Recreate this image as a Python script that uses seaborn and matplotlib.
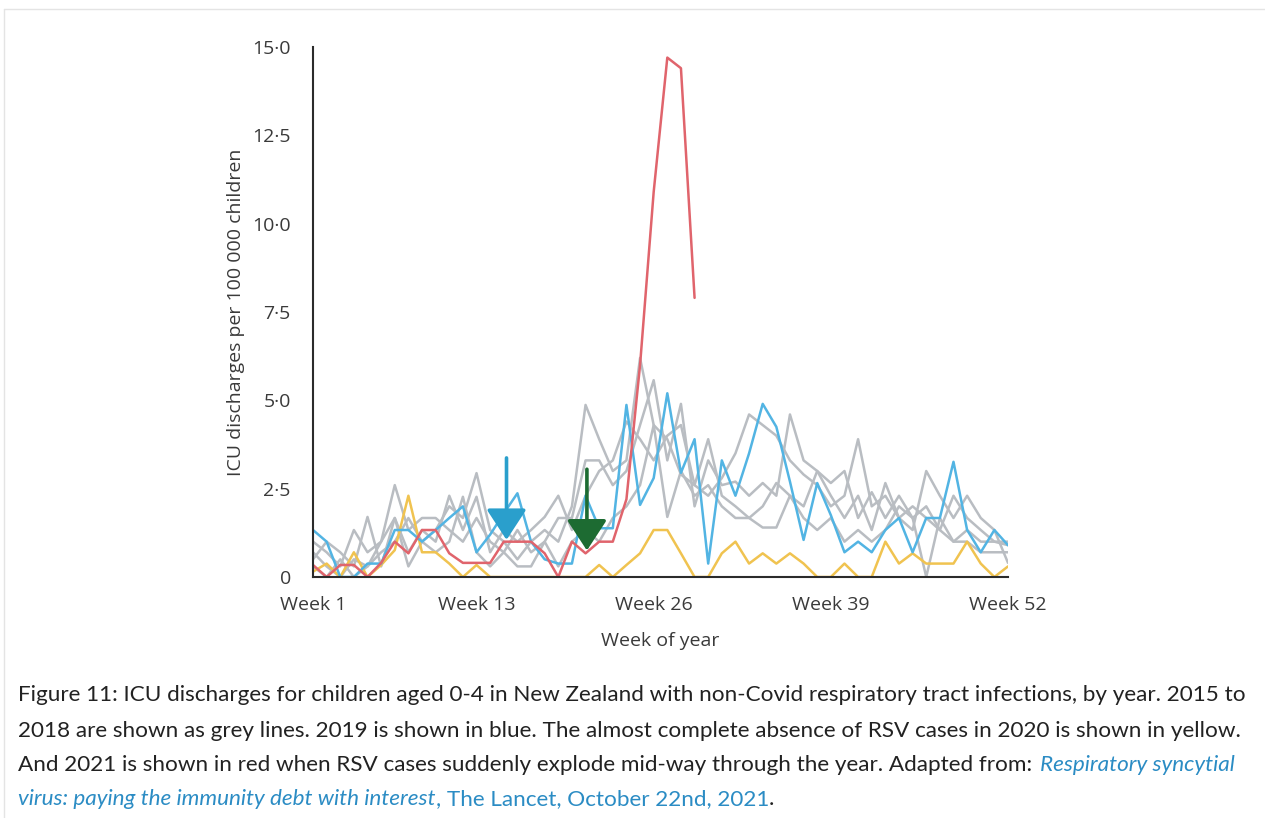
import matplotlib
matplotlib.use('Agg')
import matplotlib.pyplot as plt
import seaborn as sns
import pandas as pd

# weekly ICU discharge rates per 100 000 children aged 0-4
weeks = list(range(1, 53))
g2015 = [0.7, 0.3, 0.0, 0.5, 0.3, 0.7, 1.0, 1.67, 1.0, 1.33, 2.0, 1.67, 2.94, 1.33, 1.0, 0.5,
         1.0, 1.33, 1.0, 2.0, 4.87, 3.9, 3.0, 3.3, 6.2, 4.3, 3.9, 2.9, 2.6, 2.3, 2.8, 3.5,
         4.6, 4.3, 4.0, 3.3, 2.9, 2.6, 2.0, 2.3, 3.9, 2.0, 2.3, 1.67, 2.0, 1.67, 1.33, 2.3,
         1.67, 1.33, 1.0, 0.9]
g2016 = [1.0, 0.7, 0.3, 1.33, 0.7, 1.0, 2.6, 1.33, 1.67, 1.67, 1.33, 1.0, 1.67, 1.0, 0.7, 1.33,
         0.7, 1.0, 1.67, 1.67, 3.3, 3.3, 2.6, 3.0, 4.3, 5.57, 3.3, 4.9, 2.0, 3.3, 2.6, 2.7,
         2.3, 2.66, 2.3, 4.6, 3.3, 3.0, 2.3, 1.67, 2.3, 1.33, 2.66, 1.67, 1.33, 3.0, 2.3, 1.67,
         2.3, 1.67, 1.33, 0.4]
g2017 = [0.5, 1.0, 0.7, 0.3, 1.7, 0.3, 1.67, 0.7, 1.33, 1.0, 2.3, 1.33, 2.27, 0.7, 1.33, 1.0,
         1.33, 1.7, 2.3, 1.33, 2.3, 3.0, 3.3, 4.4, 3.9, 3.3, 4.0, 4.3, 2.6, 3.9, 2.3, 2.0,
         1.67, 2.0, 2.66, 2.3, 2.0, 3.0, 2.66, 3.0, 1.67, 2.4, 1.67, 2.3, 1.67, 2.0, 1.33, 1.0,
         1.33, 1.0, 1.0, 1.0]
g2018 = [0.3, 0.0, 0.5, 0.0, 0.3, 1.0, 1.67, 0.3, 1.0, 0.7, 1.0, 2.27, 0.7, 0.3, 0.7, 0.3,
         0.3, 1.0, 0.3, 1.0, 1.33, 1.0, 1.67, 2.0, 2.6, 4.3, 1.7, 3.0, 2.3, 2.6, 2.0, 1.67,
         1.67, 1.4, 1.4, 2.3, 1.67, 1.33, 1.67, 1.0, 1.33, 1.0, 1.33, 2.0, 1.67, 0.0, 1.67, 1.0,
         1.0, 0.7, 0.7, 0.7]
blue_2019 = [1.33, 1.0, 0.0, 0.0, 0.38, 0.38, 1.33, 1.33, 1.0, 1.33, 1.67, 2.0, 0.7, 1.2, 1.8, 2.37,
             1.0, 0.5, 0.38, 0.38, 2.3, 1.38, 1.38, 4.87, 2.04, 2.8, 5.2, 2.95, 3.9, 0.38, 3.3, 2.3,
             3.5, 4.9, 4.25, 2.7, 1.05, 2.66, 1.75, 0.7, 1.0, 0.7, 1.33, 1.67, 0.7, 1.67, 1.67, 3.26,
             1.33, 0.7, 1.33, 0.9]
yellow_2020 = [0.15, 0.38, 0.0, 0.7, 0.0, 0.34, 0.76, 2.3, 0.7, 0.7, 0.38, 0.0, 0.34, 0.0, 0.0, 0.0,
               0.0, 0.0, 0.0, 0.0, 0.0, 0.34, 0.0, 0.34, 0.67, 1.33, 1.33, 0.67, 0.0, 0.0, 0.67, 1.0,
               0.38, 0.67, 0.38, 0.67, 0.38, 0.0, 0.0, 0.38, 0.0, 0.0, 1.0, 0.38, 0.67, 0.38, 0.38, 0.38,
               1.0, 0.38, 0.0, 0.3]
red_2021 = [0.34, 0.0, 0.34, 0.34, 0.0, 0.4, 1.0, 0.67, 1.33, 1.33, 0.67, 0.4, 0.4, 0.4, 1.0, 1.0,
            1.0, 0.67, 0.0, 1.0, 0.67, 1.0, 1.0, 2.2, 6.0, 10.9, 14.7, 14.4, 7.9]

years = ['2015', '2016', '2017', '2018', '2020', '2019', '2021']
series = [g2015, g2016, g2017, g2018, yellow_2020, blue_2019, red_2021]
colors = ['#b9bdc2', '#b9bdc2', '#b9bdc2', '#b9bdc2', '#f0c350', '#52b4e3', '#e0646c']

xticks = [1, 13, 26, 39, 52]
xticklabels = ['Week 1', 'Week 13', 'Week 26', 'Week 39', 'Week 52']
yticks = [0, 2.5, 5, 7.5, 10, 12.5, 15]
yticklabels = ['0', '2·5', '5·0', '7·5', '10·0', '12·5', '15·0']

# arrows: week, top of shaft, tip
arrow_weeks = [15.2, 21.1]
arrow_tops = [3.37, 3.05]
arrow_tips = [1.05, 0.75]
arrow_colors = ['#2a9fcc', '#1d6b32']

rows = []
for yr, vals in zip(years, series):
    for w, v in zip(weeks, vals):
        rows.append((yr, w, v))
df = pd.DataFrame(rows, columns=['year', 'week', 'rate'])

sns.set_theme(style='white')
plt.rcParams['font.family'] = ['Open Sans', 'DejaVu Sans']

W, H = 1265, 818
fig = plt.figure(figsize=(W / 100, H / 100), dpi=100)
fig.patch.set_facecolor('white')

# faint page frame
fig.add_artist(plt.Line2D([4 / W, 1], [1 - 9 / H, 1 - 9 / H], color='#e4e4e4', lw=1))
fig.add_artist(plt.Line2D([4 / W, 4 / W], [0, 1 - 9 / H], color='#e4e4e4', lw=1))

ax = fig.add_axes([313 / W, 1 - 577 / H, (1008 - 313) / W, (577 - 47) / H])
sns.lineplot(data=df, x='week', y='rate', hue='year', hue_order=years,
             palette=dict(zip(years, colors)), linewidth=1.8, legend=False,
             estimator=None, ax=ax)

for w, top, tip, c in zip(arrow_weeks, arrow_tops, arrow_tips, arrow_colors):
    ax.annotate('', xy=(w, tip), xytext=(w, top),
                arrowprops=dict(arrowstyle='-|>,head_width=0.62,head_length=0.95',
                                mutation_scale=20, color=c, lw=2.6,
                                shrinkA=0, shrinkB=0))

ax.set_xlim(1, 52)
ax.set_ylim(0, 15)
ax.set_xticks(xticks)
ax.set_xticklabels(xticklabels)
ax.set_yticks(yticks)
ax.set_yticklabels(yticklabels)
for s in ['top', 'right']:
    ax.spines[s].set_visible(False)
for s in ['left', 'bottom']:
    ax.spines[s].set_color('#2b2b2b')
    ax.spines[s].set_linewidth(1.5)
ax.tick_params(axis='both', direction='out', length=9, width=1.5, color='#2b2b2b',
               labelsize=14, labelcolor='#3a3a3a')
ax.tick_params(axis='y', pad=7)
ax.tick_params(axis='x', pad=5)
ax.set_xlabel('Week of year', fontsize=14, color='#3a3a3a', labelpad=13)
ax.set_ylabel('ICU discharges per 100 000 children', fontsize=14, color='#3a3a3a', labelpad=5)

# caption with mixed styling
cap_lines = [
    [("Figure 11: ICU discharges for children aged 0-4 in New Zealand with non-Covid "
      "respiratory tract infections, by year. 2015 to", 'plain')],
    [("2018 are shown as grey lines. 2019 is shown in blue. The almost complete absence of "
      "RSV cases in 2020 is shown in yellow.", 'plain')],
    [("And 2021 is shown in red when RSV cases suddenly explode mid-way through the year. "
      "Adapted from:", 'plain'), ("Respiratory syncytial", 'italic')],
    [("virus: paying the immunity debt with interest", 'italic'),
     (", The Lancet, October 22nd, 2021", 'link'), (".", 'plain')],
]
cap_y = [695, 731, 765, 799]
styles = {'plain': ('#222222', 'normal'), 'italic': ('#2b8cc4', 'italic'),
          'link': ('#2b8cc4', 'normal')}
renderer = fig.canvas.get_renderer()
for line, yp in zip(cap_lines, cap_y):
    x = 18
    for i, (txt, st) in enumerate(line):
        col, fs = styles[st]
        t = fig.text(x / W, 1 - yp / H, txt, fontsize=16.2, color=col, style=fs,
                     family=['Lato', 'DejaVu Sans'], va='center', ha='left')
        x += t.get_window_extent(renderer).width
        if txt.endswith(':'):
            x += 8

fig.savefig('out.png', dpi=100)
